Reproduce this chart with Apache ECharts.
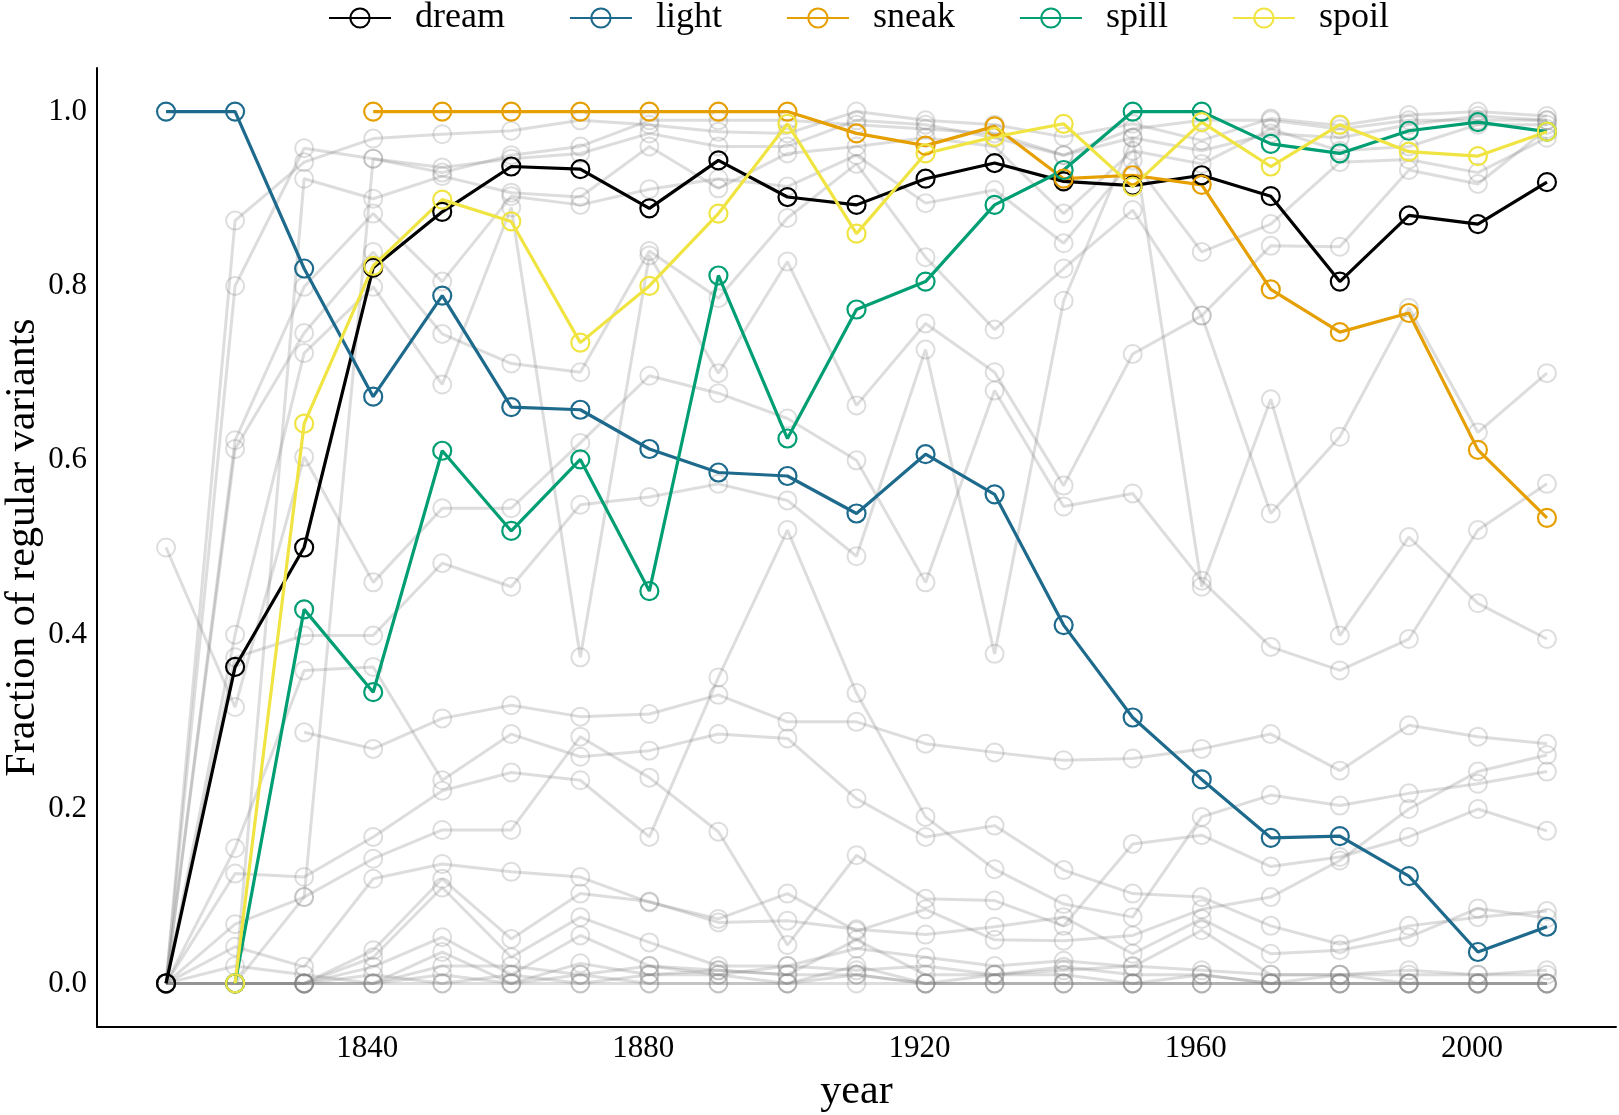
<!DOCTYPE html>
<html>
<head>
<meta charset="utf-8">
<script src="https://cdn.jsdelivr.net/npm/echarts@6/dist/echarts.min.js"></script>
<style>
  html, body { margin: 0; padding: 0; background: #fff; }
  #chart { width: 1619px; height: 1115px; }
</style>
</head>
<body>
<div id="chart"></div>
<script>
const years = [1810, 1820, 1830, 1840, 1850, 1860, 1870, 1880, 1890, 1900, 1910,
  1920, 1930, 1940, 1950, 1960, 1970, 1980, 1990, 2000, 2010];

const dream = [0, 0.363, 0.5, 0.821, 0.885, 0.937, 0.934, 0.889, 0.944, 0.902, 0.893,
  0.923, 0.941, 0.92, 0.915, 0.927, 0.903, 0.805, 0.881, 0.871, 0.919];
const light = [1, 1, 0.82, 0.673, 0.789, 0.661, 0.658, 0.613, 0.586, 0.582, 0.539,
  0.607, 0.561, 0.411, 0.305, 0.234, 0.167, 0.169, 0.123, 0.036, 0.065];
const sneak = [null, null, null, 1, 1, 1, 1, 1, 1, 1, 0.975,
  0.961, 0.983, 0.923, 0.927, 0.916, 0.796, 0.747, 0.769, 0.612, 0.534];
const spill = [null, 0, 0.429, 0.334, 0.611, 0.519, 0.601, 0.45, 0.812, 0.625, 0.773,
  0.805, 0.893, 0.933, 1, 1, 0.963, 0.952, 0.978, 0.988, 0.977];
const spoil = [null, 0, 0.642, 0.823, 0.899, 0.874, 0.735, 0.8, 0.883, 0.986, 0.86,
  0.952, 0.971, 0.986, 0.914, 0.988, 0.937, 0.985, 0.954, 0.949, 0.977];

// all the other verbs, drawn in grey behind
const others = [
  [0, 0.875, 0.942, 0.969, 0.974, 0.978, 0.99, 0.985, 0.977, 0.975, 1.0, 0.99, 0.985, 0.971, 0.986, 0.967, 0.992, 0.984, 0.996, 1.0, 0.995],
  [0, 0.8, 0.958, 0.946, 0.936, 0.946, 0.952, 0.975, 0.96, 0.96, 0.99, 0.985, 0.97, 0.95, 0.97, 0.955, 0.975, 0.97, 0.985, 0.995, 0.99],
  [null, 0, 0.923, 0.9, 0.926, 0.907, 0.902, 0.96, 0.912, 0.952, 0.96, 0.97, 0.96, 0.883, 0.955, 0.94, 0.98, 0.955, 0.96, 0.985, 0.985],
  [0, 0.623, 0.799, 0.883, 0.805, 0.903, 0.893, 0.911, 0.923, 0.914, 0.95, 0.895, 0.91, 0.849, 0.944, 0.839, 0.871, 0.942, 0.945, 0.93, 0.97],
  [0, 0.613, 0.746, 0.839, 0.745, 0.711, 0.701, 0.84, 0.786, 0.878, 0.94, 0.833, 0.75, 0.82, 0.887, 0.766, 0.846, 0.845, 0.933, 0.917, 0.98],
  [0, 0.4, 0.723, 0.799, 0.687, 0.89, 0.374, 0.835, 0.7, 0.828, 0.663, 0.757, 0.701, 0.571, 0.722, 0.766, 0.539, 0.627, 0.775, 0.632, 0.7],
  [0.5, 0.317, 0.604, 0.46, 0.545, 0.545, 0.62, 0.697, 0.677, 0.648, 0.6, 0.46, 0.68, 0.547, 0.562, 0.462, 0.386, 0.359, 0.395, 0.52, 0.573],
  [0, 0.374, 0.399, 0.399, 0.482, 0.455, 0.549, 0.558, 0.573, 0.554, 0.49, 0.727, 0.378, 0.783, 0.97, 0.455, 0.67, 0.399, 0.512, 0.436, 0.395],
  [null, null, 0.288, 0.269, 0.304, 0.319, 0.306, 0.309, 0.331, 0.3, 0.3, 0.275, 0.265, 0.256, 0.258, 0.269, 0.286, 0.244, 0.296, 0.283, 0.275],
  [0, 0.155, 0.359, 0.363, 0.233, 0.286, 0.26, 0.267, 0.286, 0.281, 0.212, 0.168, 0.181, 0.13, 0.103, 0.099, 0.066, 0.045, 0.066, 0.076, 0.083],
  [0, 0.126, 0.122, 0.168, 0.221, 0.242, 0.233, 0.168, 0.351, 0.52, 0.333, 0.191, 0.131, 0.091, 0.076, 0.191, 0.216, 0.204, 0.218, 0.229, 0.243],
  [0, 0.068, 0.099, 0.143, 0.176, 0.176, 0.283, 0.236, 0.174, 0.044, 0.147, 0.097, 0.095, 0.066, 0.16, 0.17, 0.134, 0.145, 0.168, 0.2, 0.175],
  [0, 0.042, 0.019, 0.12, 0.137, 0.128, 0.122, 0.093, 0.074, 0.103, 0.06, 0.085, 0.05, 0.049, 0.055, 0.085, 0.099, 0.141, 0.2, 0.243, 0.262],
  [0, 0, 0, 0.038, 0.12, 0.051, 0.103, 0.094, 0.07, 0.072, 0.062, 0.056, 0.065, 0.076, 0.034, 0.074, 0.034, 0.038, 0.053, 0.086, 0.075],
  [0, 0, 0, 0.03, 0.11, 0.03, 0.076, 0.047, 0.02, 0.02, 0.04, 0.03, 0.02, 0.026, 0.019, 0.061, 0.01, 0.01, 0.01, 0.01, 0.015],
  [0, 0, 0, 0.019, 0.053, 0.01, 0.055, 0.02, 0.015, 0.01, 0.05, 0.01, 0.01, 0.019, 0.01, 0.01, 0, 0, 0, 0, 0],
  [0, 0, 0, 0, 0.036, 0, 0.023, 0.01, 0.01, 0, 0.02, 0, 0, 0, 0, 0, 0, 0, 0, 0, 0],
  [0, 0, 0, 0, 0.01, 0, 0.01, 0, 0, 0, 0.01, 0, 0, 0, 0, 0, 0, 0, 0, 0, 0],
  [0, 0, 0, 0, 0, 0, 0, 0, 0, 0, 0, 0, 0, 0, 0, 0, 0, 0, 0, 0, 0],
  [null, 0, 0.099, 0.946, 0.93, 0.95, 0.96, 0.99, 0.99, 0.99, 0.985, 0.98, 0.975, 0.95, 0.98, 0.99, 0.99, 0.98, 0.99, 0.99, 0.99],
  [null, 0, 0, 0.01, 0, 0.01, 0, 0.01, 0.015, 0.01, 0.01, 0, 0.01, 0.01, 0, 0.01, 0, 0.01, 0, 0, 0],
  [0, 0.02, 0.01, 0, 0.02, 0.02, 0.01, 0.02, 0.01, 0.02, 0.015, 0.02, 0.01, 0.015, 0.02, 0.015, 0.01, 0.01, 0.015, 0.01, 0.01]
];

const names = ['dream', 'light', 'sneak', 'spill', 'spoil'];
const colors = ['#000000', '#1d6a8c', '#e69f00', '#009e73', '#f0e442'];
const xTicks = [1840, 1880, 1920, 1960, 2000];
const yTicks = [0, 0.2, 0.4, 0.6, 0.8, 1.0];

const font = 'Liberation Serif';
const grey = 'rgba(128,128,128,0.27)';

function pairs(vals) {
  return years.map((y, i) => [y, vals[i] == null ? '-' : vals[i]]);
}

const greySeries = others.map((vals, i) => ({
  name: 'other' + i,
  type: 'line',
  data: pairs(vals),
  symbol: 'circle',
  symbolSize: 18,
  lineStyle: { color: grey, width: 3 },
  itemStyle: { color: 'transparent', borderColor: grey, borderWidth: 2 },
  emphasis: { disabled: true },
  z: 1
}));

const mainSeries = [dream, light, sneak, spill, spoil].map((vals, i) => ({
  name: names[i],
  type: 'line',
  data: pairs(vals),
  symbol: 'circle',
  symbolSize: 18,
  lineStyle: { color: colors[i], width: 3.2 },
  itemStyle: { color: 'transparent', borderColor: colors[i], borderWidth: 2.2 },
  emphasis: { disabled: true },
  z: 2
}));

const myChart = echarts.init(document.getElementById('chart'));
const option = {
  animation: false,
  backgroundColor: '#fff',
  legend: {
    data: names,
    top: 0,
    left: 328,
    padding: 0,
    itemGap: 64,
    itemWidth: 62,
    itemHeight: 24,
    textStyle: { fontFamily: font, fontSize: 36, color: '#000', padding: [0, 0, 0, 19] }
  },
  grid: { left: 97, right: 3, top: 68, bottom: 88, containLabel: false, outerBoundsMode: 'none' },
  xAxis: {
    type: 'value',
    min: 1800,
    max: 2020,
    name: 'year',
    nameLocation: 'middle',
    nameGap: 44,
    nameMoveOverlap: false,
    nameTextStyle: { fontFamily: font, fontSize: 42, color: '#000' },
    axisLine: { onZero: false, lineStyle: { color: '#000', width: 2 } },
    axisTick: { show: false },
    splitLine: { show: false },
    axisLabel: {
      customValues: xTicks,
      formatter: (v) => String(v),
      fontFamily: font,
      fontSize: 31,
      color: '#000',
      margin: 6,
      padding: [0, 12, 0, 0]
    }
  },
  yAxis: {
    type: 'value',
    min: -0.05,
    max: 1.05,
    name: 'Fraction of regular variants',
    nameLocation: 'middle',
    nameRotate: 90,
    nameGap: 53,
    nameMoveOverlap: false,
    nameTextStyle: { fontFamily: font, fontSize: 42, color: '#000' },
    axisLine: { show: true, onZero: false, lineStyle: { color: '#000', width: 2 } },
    axisTick: { show: false },
    splitLine: { show: false },
    axisLabel: {
      customValues: yTicks,
      formatter: (v) => v.toFixed(1),
      fontFamily: font,
      fontSize: 31,
      color: '#000',
      margin: 10
    }
  },
  series: greySeries.concat(mainSeries)
};

myChart.setOption(option);
</script>
</body>
</html>
